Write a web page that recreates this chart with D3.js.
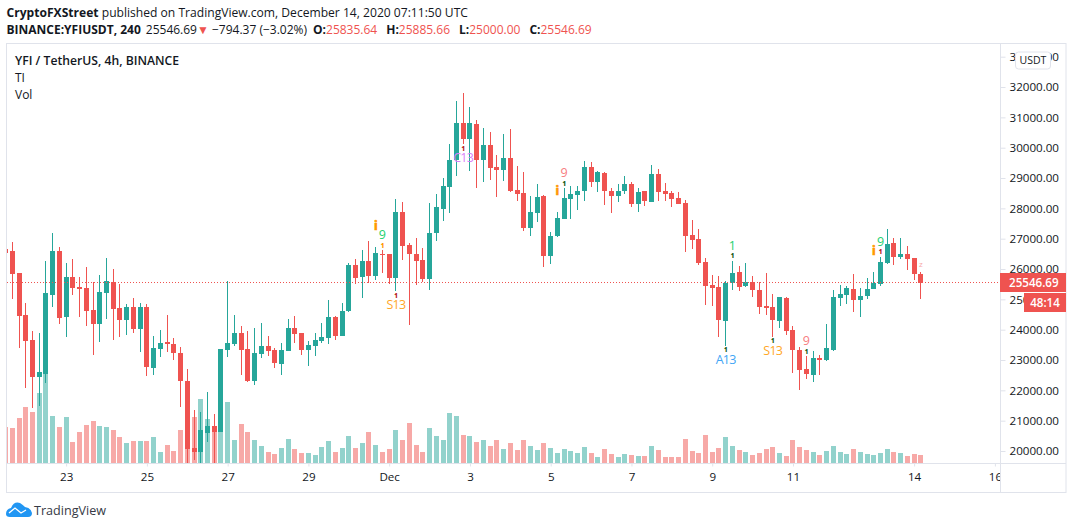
<!DOCTYPE html>
<html>
<head>
<meta charset="utf-8">
<script src="https://cdn.jsdelivr.net/npm/d3@7"></script>
<style>
  html, body { margin: 0; padding: 0; background: #fff; }
  svg { display: block; }
  text { font-family: "Open Sans", sans-serif; fill: #131722; }
</style>
</head>
<body>
<svg id="chart" width="1073" height="529"></svg>
<script>
// 4h candles, first one is clipped by the left edge
var opens = [26659,
  26593,25867,24481,23656,22435,22534,25141,26593,24415,25735,
  25405,25372,24646,24184,25207,25570,24712,24316,24745,24019,
  24745,22732,23359,23590,23524,23227,22303,20092,19960,20587,
  20818,20620,23326,23524,23887,23359,22303,23194,23458,23326,
  22864,23293,24052,23887,23326,23458,23623,23722,24415,23788,
  24613,26131,25735,26263,25768,26494,26494,25702,27880,26791,
  26494,26296,25669,27187,27979,28705,29596,30817,30289,30784,
  29596,30091,29365,29266,29662,28606,28507,27352,27847,28408,
  26428,27088,27649,28309,28441,28573,29365,28870,29167,28573,
  28408,28573,28804,28144,28573,28210,29134,28573,28507,28342,
  28177,27121,26989,26230,25471,25405,24283,25537,25900,25438,
  25570,25306,24778,24745,24283,25042,23986,23326,22699,22501,
  23062,22996,23326,25042,25141,25339,24976,25108,25339,25504,
  26197,26857,26395,26494,26362,25835.64]
var highs = [26700,
  26890,25867,24877,23953,23887,26263,27187,26725,26197,26329,
  25735,26065,25570,25801,26362,25999,25504,24844,25042,24877,
  24844,23788,23986,24481,23722,23425,22699,21346,21280,21940,
  21214,23359,25603,24481,24118,23953,24052,24217,23788,23392,
  23557,24349,24448,23887,23623,23887,24217,24976,24448,24877,
  26197,26329,26626,26923,26725,26626,26494,28309,28210,26857,
  27022,26692,28177,28474,29002,30124,31543,31807,31345,30916,
  30652,30520,29761,30454,30619,29398,29200,28408,28804,28441,
  27220,27880,28672,28738,28738,29563,29530,29233,29200,28672,
  28804,29068,28870,28672,28573,29431,29299,28837,28573,28540,
  28276,27616,27319,26362,25801,25768,25603,26263,26098,26197,
  25768,25570,25867,25174,25075,25075,24118,23425,23128,23293,
  23161,24184,25306,25471,25438,25834,25372,25702,25900,26395,
  27319,27022,27022,26758,26362,25885.66]
var lows = [26300,
  25009,23392,22072,21412,21478,22237,24745,24184,23755,25141,
  24415,24118,23161,23590,24349,23656,23755,23821,23887,23260,
  22468,22501,23095,23260,22996,21445,19476,19696,19476,20290,
  19476,20620,23095,23458,22501,22270,22171,23062,23128,22732,
  22501,23293,23557,23161,22798,23128,23557,23524,23656,23788,
  24580,25504,25053,25537,25636,25867,25504,25273,26296,24151,
  25471,25570,25306,26923,27583,27847,29068,30124,29233,28672,
  28870,28936,28375,28903,28540,28243,27253,27088,27550,26065,
  26164,27055,27649,27649,27946,28243,28705,28540,28111,27847,
  28210,28474,28045,27880,28078,28210,28243,28243,28045,28144,
  26560,26659,26131,24811,24778,23755,23458,25306,25273,25405,
  25075,24514,24481,23755,24052,23821,22567,22006,22369,22270,
  22501,22963,23293,24778,24844,24580,24415,25009,25339,25438,
  26164,26131,26329,25966,25636,25000]
var closes = [26527,
  25834,24448,23623,22435,22600,25207,26593,24382,25735,25372,
  25339,24613,24184,25240,25603,24679,24316,24745,24019,24745,
  22765,23392,23557,23524,23227,22303,20059,19960,20686,20818,
  20620,23359,23557,23887,23326,22303,23227,23458,23293,22897,
  23326,24052,23854,23326,23491,23656,23755,24415,23788,24613,
  26131,25702,26263,25768,26527,26461,25702,27880,26758,26494,
  26263,25669,27187,28045,28738,29596,30817,30289,30817,29596,
  30091,29332,29266,29662,28573,28474,27352,27880,28375,26428,
  27088,27682,28342,28474,28573,29365,28870,29200,28573,28408,
  28573,28804,28144,28540,28243,29134,28540,28474,28309,28144,
  27088,26956,26197,25438,25372,24316,25537,25867,25405,25570,
  25306,24745,24712,24316,25075,23953,23326,22666,22534,23062,
  22996,23392,25075,25174,25372,24976,25108,25339,25537,26230,
  26824,26395,26494,26329,25834,25546.69]
var volumes = [108,
  105,135,168,153,210,315,141,108,138,63,
  93,114,126,111,108,99,78,60,66,66,
  66,78,33,54,36,99,129,138,192,132,
  96,117,183,69,117,93,69,51,33,27,
  45,72,42,30,30,24,48,66,33,45,
  81,45,60,93,54,33,42,99,69,120,
  54,33,105,81,69,150,141,84,81,63,
  69,51,69,42,60,39,69,51,39,60,
  45,30,42,36,30,48,30,18,42,27,
  18,27,24,21,21,51,39,18,18,18,
  72,36,30,84,33,45,78,51,39,33,
  24,30,42,48,30,21,69,48,39,33,
  24,36,51,33,27,42,33,27,24,30,
  42,33,30,21,27,24]

var priceTicks = [20000,21000,22000,23000,24000,25000,26000,27000,28000,29000,30000,31000,32000,33000]
var timeTickIndex = [9,21,33,45,57,69,81,93,105,117,135,147]
var timeTickLabels = ["23","25","27","29","Dec","3","5","7","9","11","14","16"]

// TD sequential labels on the chart
var markIndex = [56,55,58,68,83,82,108,107,114,119,130,129,136]
var markPrice = [27147,27420,24825,29673,29190,28565,26770,23010,23310,23650,26915,26585,26155]
var markText = ["9","i","S13","C13","9","i","1","A13","S13","9","9","i","z"]
var markKind = ["buy","setup","sell","count","sellNine","setup","buy","aggr","sell","sellNine","buy","setup","faint"]

// the tiny dots next to those labels
var dotIndex = [56,58,68,83,108,107,114,119,130]
var dotPrice = [26770,25120,29960,28805,26430,23330,23630,23265,26560]
var dotKind = ["tinyOrange","tinyRed","tinyRed","tinyGreen","tinyGreen","tinyGreen","tinyGreen","tinyGreen","tinyRed"]

var lastPrice = 25546.69
var up = "#26a69a", down = "#ef5350"
var border = "#e0e3eb"

var svg = d3.select("#chart")

var left = 7, right = 1000, top_ = 44, bottom = 463

var x = d3.scaleLinear().domain([0, 147]).range([5.57, 994.88])
var y = d3.scaleLinear().domain([20000, 33000]).range([451, 56.7])
var yVol = d3.scaleLinear().domain([0, 315]).range([bottom, bottom - 105])

var px = function (i) { return Math.floor(x(i)) + 0.5 }

var defs = svg.append("defs")
defs.append("clipPath").attr("id", "plot")
  .append("rect").attr("x", left).attr("y", top_).attr("width", right - left).attr("height", bottom - top_)
defs.append("clipPath").attr("id", "timeClip")
  .append("rect").attr("x", left).attr("y", bottom).attr("width", right - left).attr("height", 30)

var plot = svg.append("g").attr("clip-path", "url(#plot)")

// volume first, candles go over it
plot.selectAll("rect.vol").data(volumes).enter().append("rect")
  .attr("class", "vol")
  .attr("x", function (d, i) { return px(i) - 2.5 })
  .attr("width", 5)
  .attr("y", function (d) { return Math.round(yVol(d)) })
  .attr("height", function (d) { return bottom - Math.round(yVol(d)) })
  .attr("fill", function (d, i) { return closes[i] >= opens[i] ? up : down })
  .attr("fill-opacity", 0.5)

plot.selectAll("line.wick").data(opens).enter().append("line")
  .attr("class", "wick")
  .attr("x1", function (d, i) { return px(i) })
  .attr("x2", function (d, i) { return px(i) })
  .attr("y1", function (d, i) { return Math.round(y(highs[i])) })
  .attr("y2", function (d, i) { return Math.round(y(lows[i])) })
  .attr("stroke", function (d, i) { return closes[i] >= d ? up : down })
  .attr("stroke-width", 1)

plot.selectAll("rect.body").data(opens).enter().append("rect")
  .attr("class", "body")
  .attr("x", function (d, i) { return px(i) - 2.5 })
  .attr("width", 5)
  .attr("y", function (d, i) { return Math.round(y(Math.max(d, closes[i]))) })
  .attr("height", function (d, i) { return Math.max(1, Math.round(Math.abs(y(d) - y(closes[i])))) })
  .attr("fill", function (d, i) { return closes[i] >= d ? up : down })

// last price line
plot.append("line")
  .attr("x1", left).attr("x2", right)
  .attr("y1", Math.floor(y(lastPrice)) + 0.5).attr("y2", Math.floor(y(lastPrice)) + 0.5)
  .attr("stroke", down).attr("stroke-dasharray", "1 2")

var markStyle = {
  buy: { color: "#22d06e", size: 12.5 },
  setup: { color: "#ff9800", size: 12, weight: 700, stroke: 0.7 },
  sell: { color: "#ffa726", size: 12.5, spacing: -0.7 },
  count: { color: "#d980fa", size: 12.5, spacing: -0.7 },
  sellNine: { color: "#f77c80", size: 12.5 },
  aggr: { color: "#42a5f5", size: 12.5, spacing: -0.7 },
  faint: { color: "#f7a9a7", size: 8 },
  tinyOrange: { color: "#ff9800", size: 6 },
  tinyRed: { color: "#b71c1c", size: 6 },
  tinyGreen: { color: "#1b5e20", size: 6 }
}

plot.selectAll("text.mark").data(markText).enter().append("text")
  .attr("class", "mark")
  .attr("x", function (d, i) { return x(markIndex[i]) })
  .attr("y", function (d, i) { return y(markPrice[i]) })
  .attr("text-anchor", "middle")
  .attr("dy", "0.35em")
  .style("font-size", function (d, i) { return markStyle[markKind[i]].size + "px" })
  .style("font-weight", function (d, i) { return markStyle[markKind[i]].weight || 400 })
  .style("letter-spacing", function (d, i) { return (markStyle[markKind[i]].spacing || 0) + "px" })
  .style("fill", function (d, i) { return markStyle[markKind[i]].color })
  .style("stroke", function (d, i) { return markStyle[markKind[i]].color })
  .style("stroke-width", function (d, i) { return markStyle[markKind[i]].stroke || 0 })
  .text(function (d) { return d })

plot.selectAll("text.dot").data(dotKind).enter().append("text")
  .attr("class", "dot")
  .attr("x", function (d, i) { return x(dotIndex[i]) })
  .attr("y", function (d, i) { return y(dotPrice[i]) })
  .attr("text-anchor", "middle")
  .attr("dy", "0.35em")
  .style("font-size", function (d) { return markStyle[d].size + "px" })
  .style("font-weight", 800)
  .style("fill", function (d) { return markStyle[d].color })
  .text("1")

// frame
svg.append("rect").attr("x", 6.5).attr("y", 43.5).attr("width", 1059.5).attr("height", 449)
  .attr("fill", "none").attr("stroke", border)

// price axis
var yAxis = d3.axisRight(y).tickValues(priceTicks).tickSize(5).tickPadding(4)
  .tickFormat(function (d) { return d3.format(".2f")(d) })
var yG = svg.append("g").attr("transform", "translate(1000.5,0)").call(yAxis)
yG.select(".domain").attr("stroke", border).attr("d", "M0," + 43.5 + "V" + 492.5)
yG.selectAll(".tick line").attr("stroke", border)
yG.selectAll(".tick text").style("font-size", "11.6px").style("fill", "#131722")

// time axis
var xAxis = d3.axisBottom(x).tickValues(timeTickIndex).tickSize(3).tickPadding(6)
  .tickFormat(function (d, i) { return timeTickLabels[i] })
var xG = svg.append("g").attr("clip-path", "url(#timeClip)")
  .append("g").attr("transform", "translate(0," + (bottom + 0.5) + ")").call(xAxis)
xG.select(".domain").attr("stroke", border).attr("d", "M7,0H1000")
xG.selectAll(".tick line").attr("stroke", border)
xG.selectAll(".tick text").style("font-size", "11.6px").style("fill", "#131722")
svg.append("line").attr("x1", 1000).attr("x2", 1066).attr("y1", bottom + 0.5).attr("y2", bottom + 0.5).attr("stroke", border)

// price label and countdown
svg.append("rect").attr("x", 1000).attr("y", 273).attr("width", 66).attr("height", 19).attr("fill", down)
svg.append("text").attr("x", 1009).attr("y", 282.5).attr("dy", "0.35em")
  .style("font-size", "11.6px").style("font-weight", 600).style("fill", "#fff").text(d3.format(".2f")(lastPrice))
svg.append("rect").attr("x", 1024).attr("y", 293).attr("width", 42).attr("height", 19).attr("fill", down)
svg.append("text").attr("x", 1045).attr("y", 302.5).attr("dy", "0.35em").attr("text-anchor", "middle")
  .style("font-size", "11.6px").style("font-weight", 600).style("fill", "#fff").text("48:14")

// currency button
svg.append("rect").attr("x", 1015.5).attr("y", 52).attr("width", 35).attr("height", 17).attr("rx", 3)
  .attr("fill", "#fff").attr("stroke", border)
svg.append("text").attr("x", 1033).attr("y", 60.5).attr("dy", "0.35em").attr("text-anchor", "middle")
  .style("font-size", "10.5px").text("USDT")

// header
var line1 = svg.append("text").attr("x", 6.5).attr("y", 17).style("font-size", "12.1px")
line1.append("tspan").style("font-weight", 700).text("CryptoFXStreet")
line1.append("tspan").text(" published on TradingView.com, December 14, 2020 07:11:50 UTC")

var line2 = svg.append("text").attr("x", 6.5).attr("y", 34).style("font-size", "12px")
line2.append("tspan").style("font-weight", 700).text("BINANCE:YFIUSDT, 240")
line2.append("tspan").attr("dx", 5).text("25546.69")
line2.append("tspan").style("fill", down).text("▼")
line2.append("tspan").text(" −794.37 (−3.02%)")
var ohlcNames = ["O:", "H:", "L:", "C:"]
var ohlcValues = ["25835.64", "25885.66", "25000.00", "25546.69"]
ohlcNames.forEach(function (n, i) {
  line2.append("tspan").attr("dx", i === 0 ? 6 : 9).style("font-weight", 700).text(n)
  line2.append("tspan").style("fill", down).text(ohlcValues[i])
})

// legend
svg.append("text").attr("x", 15).attr("y", 64.5).style("font-size", "12.2px").style("font-weight", 600)
  .text("YFI / TetherUS, 4h, BINANCE")
svg.append("text").attr("x", 15).attr("y", 81.5).style("font-size", "12px").text("TI")
svg.append("text").attr("x", 15).attr("y", 98.5).style("font-size", "12px").text("Vol")

// logo
svg.append("path")
  .attr("d", "M6,514 Q6,509 11,508 Q14,501 20,503 Q23,505 25,507 Q31,508 32,513 Q32,517 28,517 L10,517 Q6,517 6,514 Z")
  .attr("fill", "#2196f3")
svg.append("path").attr("d", "M9,513 L15,508 L21,513 L26,510").attr("fill", "none").attr("stroke", "#fff").attr("stroke-width", 1.3)
svg.append("text").attr("x", 34).attr("y", 515).style("font-size", "12.6px").style("fill", "#363a45").text("TradingView")
</script>
</body>
</html>
